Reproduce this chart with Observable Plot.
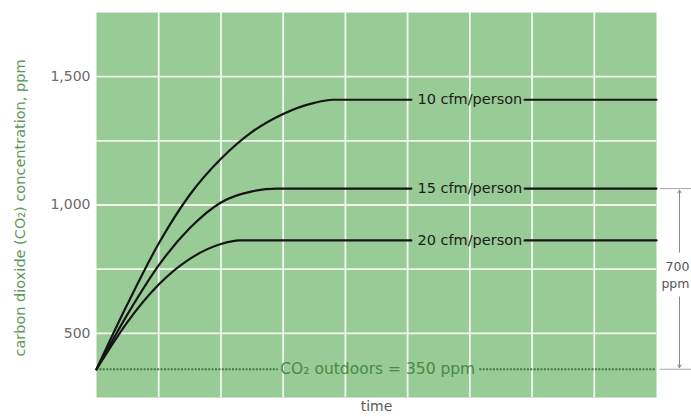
<!DOCTYPE html>
<html>
<head>
<meta charset="utf-8">
<script src="https://cdn.jsdelivr.net/npm/d3@7"></script>
<script src="https://cdn.jsdelivr.net/npm/@observablehq/plot@0.6"></script>
<style>
  html, body { margin: 0; padding: 0; background: #fff; }
  #chart { width: 691px; height: 417px; }
</style>
</head>
<body>
<div id="chart"></div>
<script>
// ---- data ----
const yTicks = [500, 1000, 1500];
const yGrid = [500, 750, 1000, 1250, 1500];
const xGrid = [1, 2, 3, 4, 5, 6, 7, 8];
const timeEnd = 9;

const t10 = [0, 0.5, 1, 1.5, 2, 2.5, 3, 3.5, 3.8];
const v10 = [360, 615, 850, 1040, 1180, 1285, 1355, 1398, 1410];
const t15 = [0, 0.5, 1, 1.5, 2, 2.5, 2.9];
const v15 = [360, 575, 765, 910, 1010, 1053, 1064];
const t20 = [0, 0.5, 1, 1.5, 2, 2.3];
const v20 = [360, 545, 690, 790, 848, 862];

const seriesLabels = ["10 cfm/person", "15 cfm/person", "20 cfm/person"];
const outdoorPPM = 360;
const outdoorLabel = "CO\u2082 outdoors = 350 ppm";
const diffLabel = "700\nppm";
const yLabel = "carbon dioxide (CO\u2082) concentration, ppm";
const xLabel = "time";

// label/gap placement (time units)
const labelT = 6, gapLo = 5.06, gapHi = 6.88;
const outdoorLabelT = 4.52, outGapLo = 2.92, outGapHi = 6.16;
const annotT = 9.37, annotTextT = 9.53;

// ---- build tables ----
function build(ts, vs, name) {
  const plateau = vs[vs.length - 1];
  const pts = ts.map((t, i) => ({t, v: vs[i], name}));
  pts.push({t: gapLo, v: plateau, name});
  pts.push({t: labelT, v: NaN, name});
  pts.push({t: gapHi, v: plateau, name});
  pts.push({t: timeEnd, v: plateau, name});
  return pts;
}
const series = [[t10, v10], [t15, v15], [t20, v20]];
const lines = series.map(([t, v], i) => build(t, v, seriesLabels[i]));
const labelRows = series.map(([t, v], i) => ({t: labelT, v: v[v.length - 1], text: seriesLabels[i]}));
const top15 = v15[v15.length - 1];

const BG = "#98cb95";
const GRID = "#f1f8ef";
const GREEN_TXT = "#5a9a57";

const chart = Plot.plot({
  width: 691,
  height: 417,
  marginLeft: 96,
  marginRight: 35,
  marginTop: 12,
  marginBottom: 20,
  style: {fontFamily: "DejaVu Sans, sans-serif", background: "#fff", overflow: "visible"},
  x: {domain: [0, timeEnd], axis: null},
  y: {domain: [250, 1750], axis: null},
  marks: [
    Plot.frame({fill: BG, stroke: null}),
    Plot.ruleX(xGrid, {stroke: GRID, strokeWidth: 1.8}),
    Plot.ruleY(yGrid, {stroke: GRID, strokeWidth: 1.8}),
    Plot.axisY(yTicks, {tickSize: 0, tickPadding: 6, tickFormat: d3.format(","), fontSize: 14, color: "#6a6a6a", label: null}),
    // outdoors dotted line with gap for label
    Plot.ruleY([outdoorPPM], {x1: 0, x2: outGapLo, stroke: "#3f7d3e", strokeWidth: 2, strokeDasharray: "2,1.4"}),
    Plot.ruleY([outdoorPPM], {x1: outGapHi, x2: timeEnd, stroke: "#3f7d3e", strokeWidth: 2, strokeDasharray: "2,1.4"}),
    Plot.text([outdoorLabel], {x: outdoorLabelT, y: outdoorPPM, fontSize: 15.5, fill: "#4a8a47"}),
    // curves
    ...lines.map(d => Plot.line(d, {x: "t", y: "v", curve: "monotone-x", stroke: "#151515", strokeWidth: 2.2})),
    Plot.text(labelRows, {x: "t", y: "v", text: "text", fontSize: 14.5, fill: "#1c1c1c"}),
    // right annotation
    Plot.ruleY([top15, outdoorPPM], {x1: 9.06, x2: 9.62, stroke: "#9a9a9a", strokeWidth: 0.9}),
    Plot.arrow([0], {x1: annotT, x2: annotT, y1: 816, y2: top15 - 6, stroke: "#888", strokeWidth: 1, headLength: 5}),
    Plot.arrow([0], {x1: annotT, x2: annotT, y1: 642, y2: outdoorPPM + 6, stroke: "#888", strokeWidth: 1, headLength: 5}),
    Plot.text([diffLabel], {x: annotTextT, y: 731, textAnchor: "end", fontSize: 12.5, fill: "#555", lineHeight: 1.4}),
    // axis titles
    Plot.text([yLabel], {frameAnchor: "left", textAnchor: "middle", dx: -76, dy: 3, rotate: -90, fontSize: 14.5, fill: GREEN_TXT}),
    Plot.text([xLabel], {frameAnchor: "bottom", dy: 13, fontSize: 14, fill: "#5a5a5a"})
  ]
});
document.getElementById("chart").appendChild(chart);
</script>
</body>
</html>
